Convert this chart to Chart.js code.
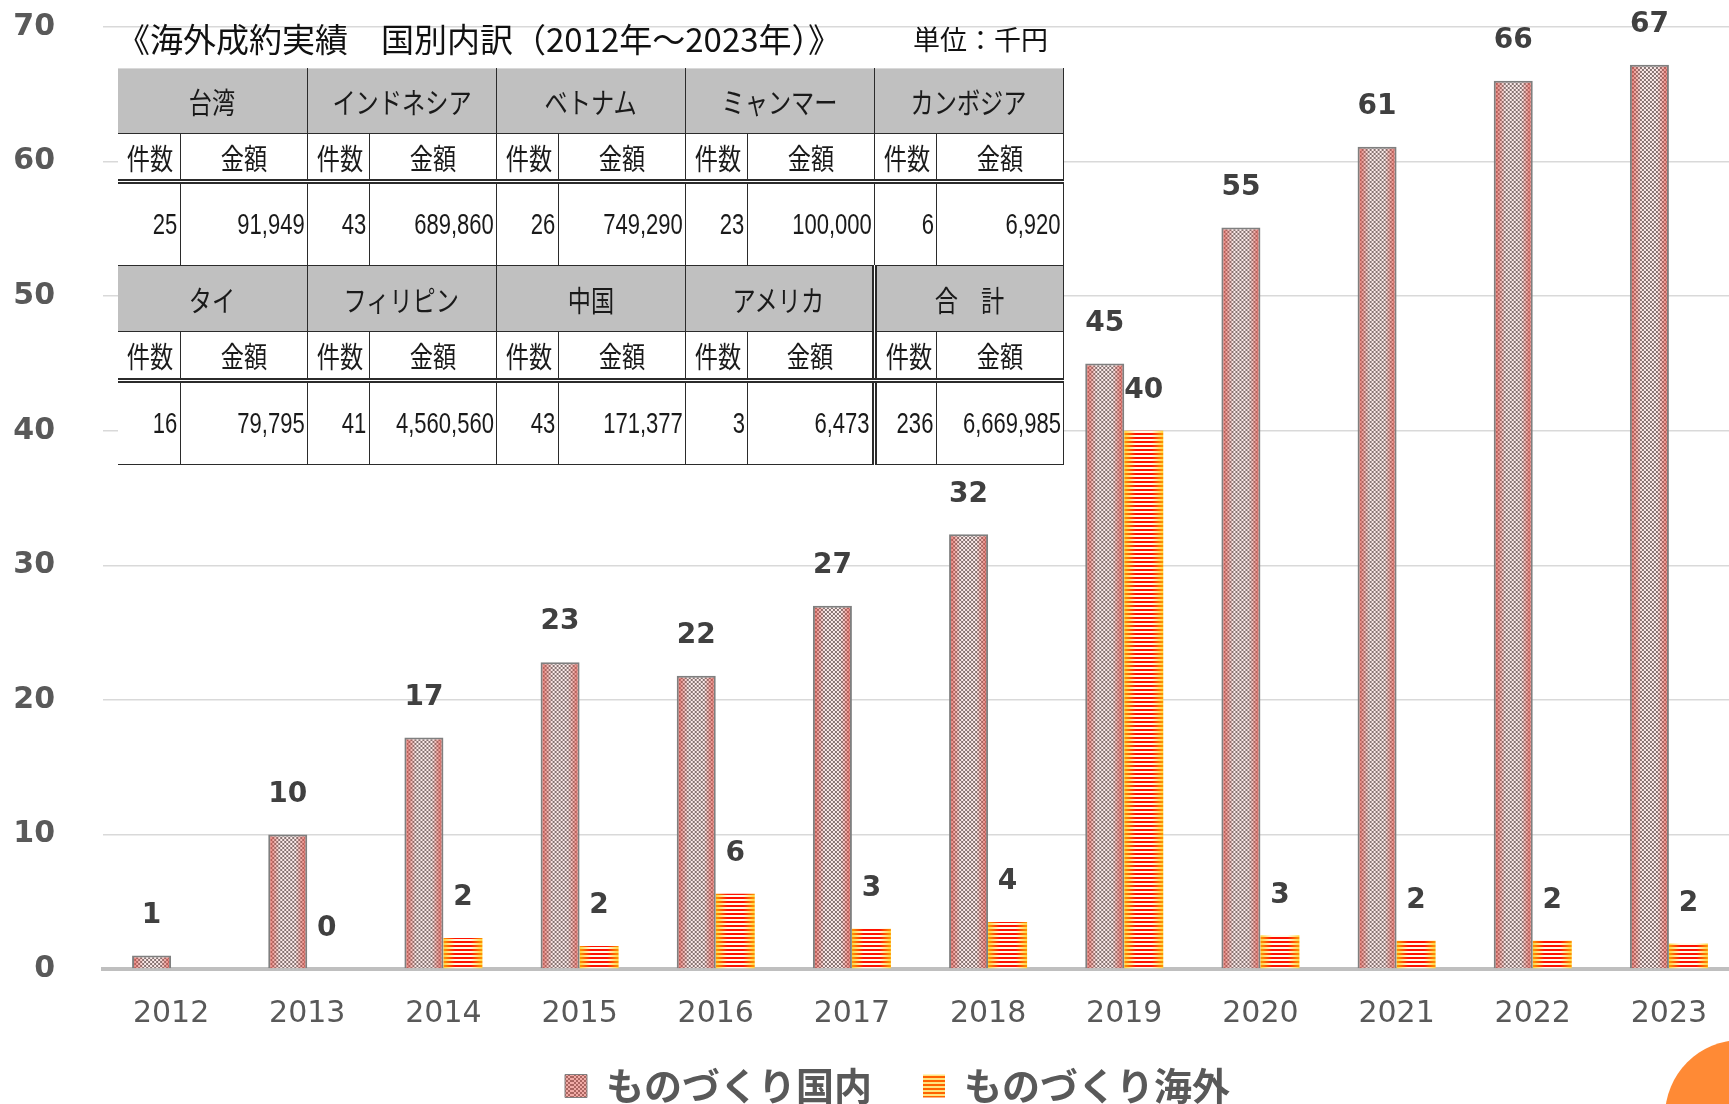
<!DOCTYPE html>
<html lang="ja">
<head>
<meta charset="utf-8">
<title>ものづくり 国内・海外</title>
<script src="https://cdn.jsdelivr.net/npm/chart.js@4.4.0/dist/chart.umd.min.js"></script>
<style>
    html, body { margin: 0; padding: 0; background: #fff; overflow: hidden; }
    #wrap { position: relative; width: 1760px; height: 1104px; }
    #chart { position: absolute; left: 0; top: 0; }
    #title { position: absolute; left: 117px; top: 14px; font: 33px 'Noto Sans CJK JP', sans-serif; color: #111; white-space: nowrap; }
    #unit { position: absolute; left: 913px; top: 19px; font: 27px 'Noto Sans CJK JP', sans-serif; color: #111; white-space: nowrap; }
    #breakdown { position: absolute; left: 118px; top: 68px; width: 946px; table-layout: fixed; border-collapse: collapse;
        background: #fff; font: 29px 'Liberation Sans', 'Noto Sans CJK JP', sans-serif; color: #1a1a1a; }
    #breakdown td { border: 1.5px solid #2b2b2b; padding: 0 3px; white-space: nowrap; overflow: hidden; vertical-align: middle; }
    #breakdown td.first { border-left: none; }
    #breakdown tr.top td { border-top: 1px solid #d9d9d9; }
    #breakdown td.head { background: #c0c0c0; text-align: center; }
    #breakdown td.sub { text-align: center; border-bottom: 5px double #2b2b2b; }
    #breakdown td.num { padding-right: 2px; }
    #breakdown td.sep { border-left: 5px double #2b2b2b; }
    .sq { display: inline-block; transform: scaleX(0.8); transform-origin: center center; }
    .right { display: flex; justify-content: flex-end; }
    .right .sq { transform: scaleX(0.76); transform-origin: right center; }
    #deco { position: absolute; left: 1665px; top: 1040px; width: 152px; height: 152px; border-radius: 50%; background: #ff8a35; }
</style>
</head>
<body>
<div id="wrap">
    <canvas id="chart" width="1760" height="1104"></canvas>
    <div id="title">《海外成約実績　国別内訳（2012年～2023年）》</div>
    <div id="unit">単位：千円</div>
    <table id="breakdown"></table>
    <div id="deco"></div>
</div>
<script>
const years = ['2012', '2013', '2014', '2015', '2016', '2017', '2018', '2019', '2020', '2021', '2022', '2023'];
const domestic = [1, 10, 17.2, 22.8, 21.8, 27, 32.3, 45, 55.1, 61.1, 66, 67.2];
const overseas = [null, 0, 2.3, 1.7, 5.6, 3.0, 3.5, 40, 2.5, 2.1, 2.1, 1.9];
const seriesNames = ['ものづくり国内', 'ものづくり海外'];
const yTicks = [0, 10, 20, 30, 40, 50, 60, 70];

// table overlay (国別内訳)
const countries = ['台湾', 'インドネシア', 'ベトナム', 'ミャンマー', 'カンボジア', 'タイ', 'フィリピン', '中国', 'アメリカ', '合　計'];
const contractCounts = [25, 43, 26, 23, 6, 16, 41, 43, 3, 236];
const contractAmounts = [91949, 689860, 749290, 100000, 6920, 79795, 4560560, 171377, 6473, 6669985];

const CAT_PCT = 0.573;
const LEGEND_PAD = 51;

function buildTable() {
    const table = document.getElementById('breakdown');
    let html = '<colgroup>' + '<col style="width:62px"><col style="width:127px">'.repeat(5) + '</colgroup>';
    const rowH = [[65, 48, 84], [66, 49, 84]];
    const num = v => '<div class="right"><span class="sq">' + v + '</span></div>';
    for (let b = 0; b < 2; b++) {
        const idx = [0, 1, 2, 3, 4].map(k => b * 5 + k);
        const sep = k => (b === 1 && k === 4) ? ' sep' : '';
        html += '<tr class="' + (b === 0 ? 'top' : '') + '" style="height:' + rowH[b][0] + 'px">';
        idx.forEach((n, k) => {
            html += '<td colspan="2" class="head' + (k === 0 ? ' first' : '') + sep(k) + '"><span class="sq">' + countries[n] + '</span></td>';
        });
        html += '</tr><tr style="height:' + rowH[b][1] + 'px">';
        idx.forEach((n, k) => {
            html += '<td class="sub' + (k === 0 ? ' first' : '') + sep(k) + '"><span class="sq">件数</span></td>';
            html += '<td class="sub"><span class="sq">金額</span></td>';
        });
        html += '</tr><tr style="height:' + rowH[b][2] + 'px">';
        idx.forEach((n, k) => {
            html += '<td class="num' + (k === 0 ? ' first' : '') + sep(k) + '">' + num(contractCounts[n]) + '</td>';
            html += '<td class="num">' + num(contractAmounts[n].toLocaleString('en-US')) + '</td>';
        });
        html += '</tr>';
    }
    table.innerHTML = html;
}

// tile: checker (国内) or horizontal stripes (海外), tinted towards the bar edges
function makeTile(w, kind, uniform) {
    const c = document.createElement('canvas');
    c.width = Math.max(2, Math.round(w));
    c.height = 4;
    const g = c.getContext('2d');
    if (kind === 'check') {
        for (let y = 0; y < 4; y += 2) {
            for (let x = 0; x < c.width; x += 2) {
                g.fillStyle = ((x + y) / 2) % 2 ? '#ffffff' : '#7a7a7a';
                g.fillRect(x, y, 2, 2);
            }
        }
    } else {
        g.fillStyle = '#ff1000';
        g.fillRect(0, 0, c.width, 2);
        g.fillStyle = '#fffbe8';
        g.fillRect(0, 2, c.width, 2);
    }
    const tint = kind === 'check' ? '225,80,70' : '255,200,0';
    const a = kind === 'check' ? 0.8 : 0.75;
    const mid = kind === 'check' ? 0.12 : 0;
    if (uniform) {
        g.fillStyle = 'rgba(' + tint + ',' + (a * 0.6) + ')';
    } else {
        const gr = g.createLinearGradient(0, 0, c.width, 0);
        gr.addColorStop(0, 'rgba(' + tint + ',' + a + ')');
        gr.addColorStop(0.3, 'rgba(' + tint + ',' + mid + ')');
        gr.addColorStop(0.7, 'rgba(' + tint + ',' + mid + ')');
        gr.addColorStop(1, 'rgba(' + tint + ',' + a + ')');
        g.fillStyle = gr;
    }
    g.fillRect(0, 0, c.width, 4);
    return c;
}

function barFill(context, kind, side) {
    const chart = context.chart;
    const xs = chart.scales.x;
    if (!xs || !chart.chartArea || context.dataIndex === undefined) {
        return kind === 'check' ? '#b08080' : '#ff3000';
    }
    const barW = xs.width / years.length * CAT_PCT / 2;
    const center = xs.getPixelForValue(context.dataIndex);
    const left = center - barW + side * barW;
    const p = chart.ctx.createPattern(makeTile(barW, kind, false), 'repeat');
    p.setTransform(new DOMMatrix().translate(left, chart.chartArea.bottom));
    return p;
}

const valueLabels = {
    id: 'valueLabels',
    afterDatasetsDraw(chart) {
        const ctx = chart.ctx;
        ctx.save();
        ctx.font = 'bold 28px "DejaVu Sans"';
        ctx.fillStyle = '#404040';
        ctx.textAlign = 'center';
        ctx.textBaseline = 'middle';
        chart.data.datasets.forEach((ds, i) => {
            chart.getDatasetMeta(i).data.forEach((bar, j) => {
                const v = ds.data[j];
                if (v === null || v === undefined) return;
                ctx.fillText(String(Math.round(v)), bar.x, bar.y - 40);
            });
        });
        ctx.restore();
    }
};

// move the legend row to where it sits in the original slide
const legendNudge = {
    id: 'legendNudge',
    afterLayout(chart) {
        const lg = chart.legend;
        if (!lg || !lg.lineWidths) return;
        const start = (lg.left + LEGEND_PAD + lg.right - lg.lineWidths[0]) / 2;
        const dx = 565 - start;
        const dy = 1086 - (lg.top + LEGEND_PAD + 19);
        lg.left += dx; lg.right += dx;
        lg.top += dy; lg.bottom += dy;
    }
};

document.addEventListener('DOMContentLoaded', function () {
    buildTable();

    const ctx = document.getElementById('chart').getContext('2d');
    const legendFill = [
        ctx.createPattern(makeTile(22, 'check', true), 'repeat'),
        ctx.createPattern(makeTile(22, 'stripe', true), 'repeat')
    ];

    new Chart(ctx, {
        type: 'bar',
        data: {
            labels: years,
            datasets: [{
                label: seriesNames[0],
                data: domestic,
                backgroundColor: c => barFill(c, 'check', 0),
                borderColor: '#7f7f7f',
                borderWidth: { left: 2, right: 2, top: 2, bottom: 0 },
                borderSkipped: 'start',
                barPercentage: 1,
                categoryPercentage: CAT_PCT
            }, {
                label: seriesNames[1],
                data: overseas,
                backgroundColor: c => barFill(c, 'stripe', 1),
                borderWidth: 0,
                barPercentage: 1,
                categoryPercentage: CAT_PCT
            }]
        },
        options: {
            responsive: false,
            animation: false,
            layout: { padding: { left: 0, right: 23, top: 27, bottom: -28 } },
            scales: {
                x: {
                    grid: { display: false, drawTicks: false },
                    border: { display: true, color: '#bfbfbf', width: 4 },
                    ticks: { color: '#595959', font: { family: 'DejaVu Sans', size: 30 }, padding: 27, maxRotation: 0 },
                    afterFit: function (scale) { scale.height = 64; }
                },
                y: {
                    min: yTicks[0],
                    max: yTicks[yTicks.length - 1],
                    afterBuildTicks: function (scale) { scale.ticks = yTicks.map(v => ({ value: v })); },
                    grid: { color: '#d9d9d9', lineWidth: 1.5, drawTicks: true, tickLength: 48, tickColor: 'rgba(0,0,0,0)' },
                    border: { display: false },
                    ticks: { color: '#595959', font: { family: 'DejaVu Sans', size: 30, weight: 'bold' }, padding: 0 },
                    afterFit: function (scale) { scale.width = 103; }
                }
            },
            plugins: {
                tooltip: { enabled: false },
                legend: {
                    position: 'bottom',
                    labels: {
                        boxWidth: 22,
                        boxHeight: 23,
                        padding: LEGEND_PAD,
                        color: '#595959',
                        font: { family: "'Noto Sans CJK JP', sans-serif", size: 38, weight: 'bold' },
                        generateLabels: chart => chart.data.datasets.map((ds, i) => ({
                            text: ds.label,
                            fillStyle: legendFill[i],
                            strokeStyle: i === 0 ? '#7f7f7f' : 'rgba(0,0,0,0)',
                            lineWidth: i === 0 ? 1 : 0,
                            fontColor: '#595959',
                            hidden: false,
                            datasetIndex: i
                        }))
                    }
                }
            }
        },
        plugins: [valueLabels, legendNudge]
    });
});
</script>
</body>
</html>
